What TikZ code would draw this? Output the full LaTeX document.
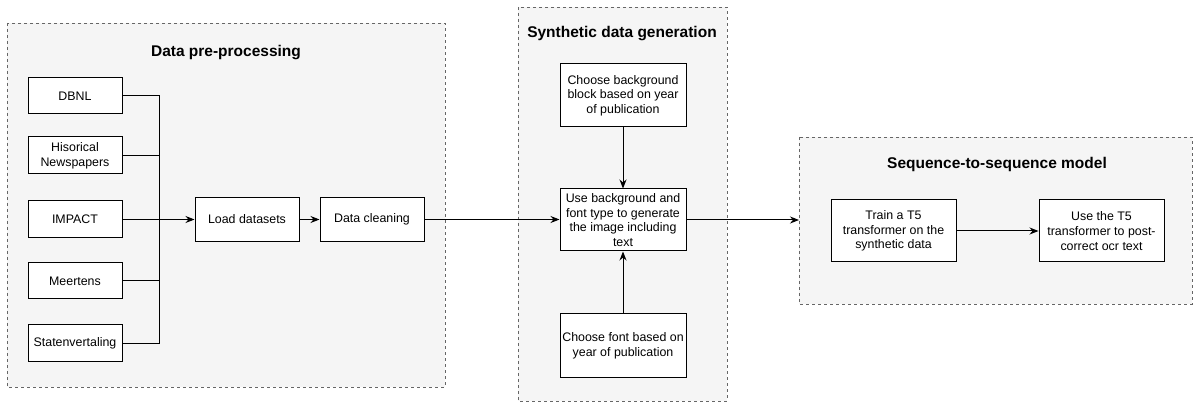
\documentclass[tikz,border=0pt]{standalone}
\usepackage{fontspec}
\setmainfont{Liberation Sans}
\usetikzlibrary{arrows.meta}
\definecolor{groupfill}{HTML}{F5F5F5}
\definecolor{groupline}{HTML}{666666}
\tikzset{
  group/.style={draw=groupline, fill=groupfill, dash pattern=on 3pt off 3pt, line width=0.8pt},
  grouptitle/.style={font=\fontsize{15.5}{18}\selectfont\bfseries},
  box/.style={draw, fill=white, line width=1pt, inner sep=0pt, align=center,
    font=\fontsize{12.4}{14.7}\selectfont},
  arr/.style={-{Stealth[length=9pt,width=7pt]}, line width=1pt},
  ln/.style={line width=1pt}
}
\begin{document}
\begin{tikzpicture}[x=1pt,y=-1pt]
\useasboundingbox (0,0) rectangle (1194,403);
\draw[group] (7,23) rectangle (445,387);
\draw[group] (518,7) rectangle (727,401);
\draw[group] (799,137) rectangle (1192,304);
\node[grouptitle] (preptitle) at (226,53) {Data pre-processing};
\node[grouptitle] (synthtitle) at (622,34) {Synthetic data generation};
\node[grouptitle] (seqtitle) at (997,164) {Sequence-to-sequence model};
% sources
\node[box, minimum width=94pt, minimum height=36pt] (dbnl) at (75,96) {DBNL};
\node[box, minimum width=94pt, minimum height=37pt] (newsp) at (75,155.5) {Hisorical\\Newspapers};
\node[box, minimum width=94pt, minimum height=37pt] (impact) at (75,219.5) {IMPACT};
\node[box, minimum width=94pt, minimum height=36pt] (meertens) at (75,281) {Meertens};
\node[box, minimum width=94pt, minimum height=36pt] (staten) at (75,343) {Statenvertaling};
\coordinate (bus) at (159,219.5);
\node[box, minimum width=104pt, minimum height=44pt] (load) at (247,219.5) {Load datasets};
\node[box, minimum width=104pt, minimum height=44pt] (clean) at (372,219.5) {Data cleaning};
% synthetic data
\node[box, minimum width=126pt, minimum height=63pt] (choosebg) at (623,95.5) {Choose background\\block based on year\\of publication};
\node[box, minimum width=126pt, minimum height=62pt] (usebg) at (623,220) {Use background and\\font type to generate\\the image including\\text};
\node[box, minimum width=126pt, minimum height=63pt] (choosefont) at (623,345.5) {Choose font based on\\year of publication};
% model
\coordinate (seqin) at (799,220);
\node[box, minimum width=125pt, minimum height=62pt] (train) at (893.5,231) {Train a T5\\transformer on the\\synthetic data};
\node[box, minimum width=125pt, minimum height=62pt] (uset5) at (1101.5,231) {Use the T5\\transformer to post-\\correct ocr text};
\draw[ln] (dbnl.east) -| (bus);
\draw[ln] (newsp.east) -| (bus);
\draw[ln] (meertens.east) -| (bus);
\draw[ln] (staten.east) -| (bus);
\draw[arr] (impact.east) -- (load.west);
\draw[arr] (load.east) -- (clean.west);
\draw[arr] (clean.east) -- (clean.east -| usebg.west);
\draw[arr] (choosebg.south) -- (usebg.north);
\draw[arr] (choosefont.north) -- (usebg.south);
\draw[arr] (usebg.east) -- (seqin);
\draw[arr] (train.east) -- (uset5.west);
\end{tikzpicture}
\end{document}
